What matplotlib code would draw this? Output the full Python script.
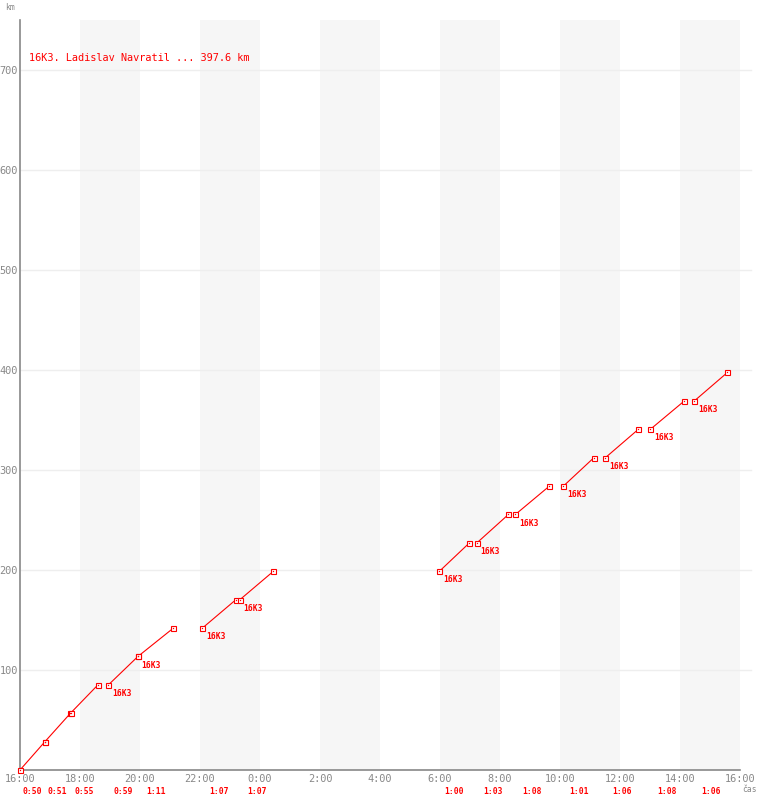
import matplotlib
matplotlib.use("Agg")
import matplotlib.pyplot as plt
import matplotlib.transforms as mtransforms

# ---- data ----
title = "16K3. Ladislav Navratil ... 397.6 km"
crew = "16K3"
lap_starts = ["16:00", "16:50", "17:41", "18:57", "19:56", "22:05", "23:20",
              "05:59", "07:14", "08:31", "10:07", "11:31", "13:01", "14:29"]
lap_times = ["0:50", "0:51", "0:55", "0:59", "1:11", "1:07", "1:07",
             "1:00", "1:03", "1:08", "1:01", "1:06", "1:08", "1:06"]
lap_km = [28.4] * 14
start_labeled = [False, False, False, True, True, True, True,
                 True, True, True, True, True, True, True]
x_tick_labels = ["16:00", "18:00", "20:00", "22:00", "0:00", "2:00", "4:00",
                 "6:00", "8:00", "10:00", "12:00", "14:00", "16:00"]
y_ticks = [100, 200, 300, 400, 500, 600, 700]


def clock_to_h(s):
    h, m = s.split(":")
    v = int(h) + int(m) / 60.0
    v -= 16
    if v < 0:
        v += 24
    return v


def dur_to_h(s):
    h, m = s.split(":")
    return int(h) + int(m) / 60.0


W, H = 760, 800
fig = plt.figure(figsize=(W / 100, H / 100), dpi=100)
ax = fig.add_axes([20 / W, 30 / H, 720 / W, 750 / H])
ax.set_xlim(0, 24)
ax.set_ylim(0, 750)

mono = "DejaVu Sans Mono"
grey = "#888888"
red = "#ff0000"

# shaded bands
for b in range(2, 24, 4):
    ax.axvspan(b, b + 2, color="#f6f6f6", zorder=0, lw=0)

# grid lines (extend a bit beyond the right edge)
trans = mtransforms.blended_transform_factory(ax.transAxes, ax.transData)
for yv in y_ticks:
    ax.plot([0, 731 / 720], [yv, yv], color="#eeeeee", lw=1, transform=trans,
            clip_on=False, zorder=1)

for s in ["top", "right"]:
    ax.spines[s].set_visible(False)
for s in ["left", "bottom"]:
    ax.spines[s].set_color(grey)
    ax.spines[s].set_linewidth(1.2)

ax.set_xticks(range(0, 25, 2))
ax.set_xticklabels(x_tick_labels, fontfamily=mono, fontsize=7.4, color=grey)
ax.set_yticks(y_ticks)
ax.set_yticklabels([str(v) for v in y_ticks], fontfamily=mono, fontsize=7.4, color=grey)
ax.tick_params(axis="both", length=0)
ax.tick_params(axis="x", pad=3)
ax.tick_params(axis="y", pad=1.5)

# laps
km = 0.0
tb = mtransforms.blended_transform_factory(ax.transData, ax.transAxes)
for i in range(len(lap_starts)):
    t0 = clock_to_h(lap_starts[i])
    t1 = t0 + dur_to_h(lap_times[i])
    k0, k1 = km, km + lap_km[i]
    ax.plot([t0, t1], [k0, k1], color=red, lw=0.8, zorder=3, clip_on=False)
    for (tx, ky) in [(t0, k0), (t1, k1)]:
        ax.plot(tx, ky, marker="s", ms=3.6, mfc="white", mec=red, mew=0.8,
                zorder=4, clip_on=False)
        ax.plot(tx, ky, marker="s", ms=0.9, mfc=red, mec=red, mew=0,
                zorder=5, clip_on=False)
    if start_labeled[i]:
        ax.annotate(crew, (t0, k0), xytext=(2.5, -3), textcoords="offset points",
                    ha="left", va="top", fontfamily=mono, fontweight="bold",
                    fontsize=5.8, color=red, zorder=6)
    ax.text((t0 + t1) / 2, -22 / 750, lap_times[i], transform=tb, ha="center",
            va="center", fontfamily=mono, fontweight="bold", fontsize=5.8, color=red)
    km = k1

ax.text(9 / 720, 712 / 750, title, transform=ax.transAxes, ha="left", va="center",
        fontfamily=mono, fontsize=7.4, color=red)
fig.text(5 / W, 1 - 7 / H, "km", ha="left", va="center", fontfamily=mono,
         fontsize=5.8, color=grey)
fig.text(742 / W, 1 - 789 / H, "čas", ha="left", va="center", fontfamily=mono,
         fontsize=5.8, color=grey)

fig.savefig("out.png", dpi=100)
